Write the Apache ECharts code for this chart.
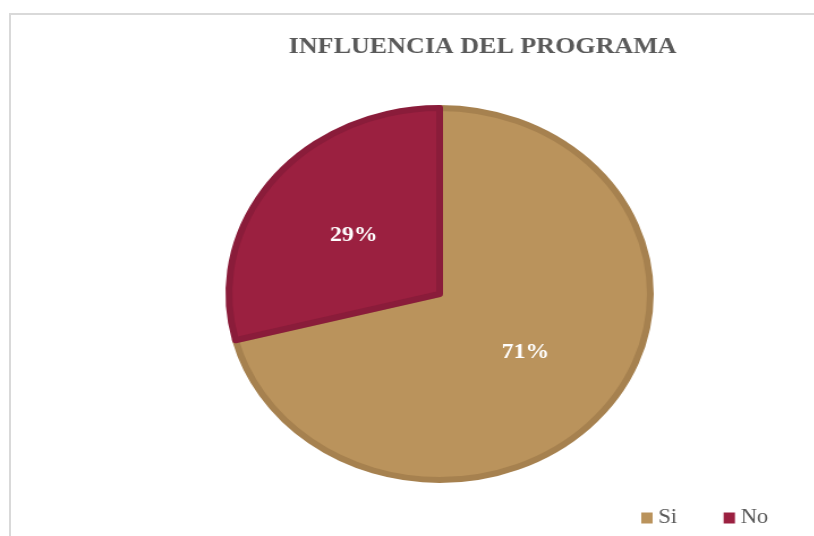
<!DOCTYPE html>
<html>
<head>
<meta charset="utf-8">
<script src="https://cdn.jsdelivr.net/npm/echarts@6/dist/echarts.min.js"></script>
<style>
  html, body { margin: 0; padding: 0; background: #fff; }
  #wrap { position: relative; width: 814px; height: 536px; overflow: hidden; }
  #frame { position: absolute; left: 9px; top: 13px; right: -5px; bottom: -5px;
           border-left: 2px solid #d9d9d9; border-top: 2px solid #d9d9d9; }
  /* el grafico original esta estirado en horizontal */
  #chart { position: absolute; left: 0; top: 0; width: 718px; height: 536px;
           transform: scaleX(1.133); transform-origin: 0 0; }
</style>
</head>
<body>
<div id="wrap">
  <div id="frame"></div>
  <div id="chart"></div>
</div>
<script>
// datos del grafico
var categories = ['Si', 'No'];
var values = [71, 29];
var colors = ['#BA935C', '#9B2040'];
var borders = ['#A6814F', '#8A1C3A'];
var titleText = 'INFLUENCIA DEL PROGRAMA';

var chart = echarts.init(document.getElementById('chart'));
chart.setOption({
    animation: false,
    color: colors,
    title: {
        text: titleText,
        left: 421,
        top: 31,
        textAlign: 'center',
        textStyle: { fontFamily: 'Liberation Serif', fontWeight: 'bold', fontSize: 23, color: '#595959' }
    },
    legend: {
        data: categories.map(function (c, i) {
            return { name: c, itemStyle: { color: colors[i], borderWidth: 0 } };
        }),
        left: 561,
        top: 503,
        icon: 'rect',
        itemWidth: 10,
        itemHeight: 11,
        itemGap: 41,
        textStyle: { fontFamily: 'Liberation Serif', fontSize: 20, color: '#595959' }
    },
    series: [{
        type: 'pie',
        center: [388, 294],
        radius: [0, 186],
        startAngle: 90,
        clockwise: true,
        silent: true,
        label: {
            show: true,
            position: 'inside',
            formatter: '{d}%',
            fontFamily: 'Liberation Serif',
            fontWeight: 'bold',
            fontSize: 21,
            color: '#ffffff'
        },
        labelLine: { show: false },
        data: categories.map(function (c, i) {
            return { name: c, value: values[i],
                     itemStyle: { color: colors[i], borderColor: borders[i], borderWidth: 6 } };
        })
    }]
});
</script>
</body>
</html>
